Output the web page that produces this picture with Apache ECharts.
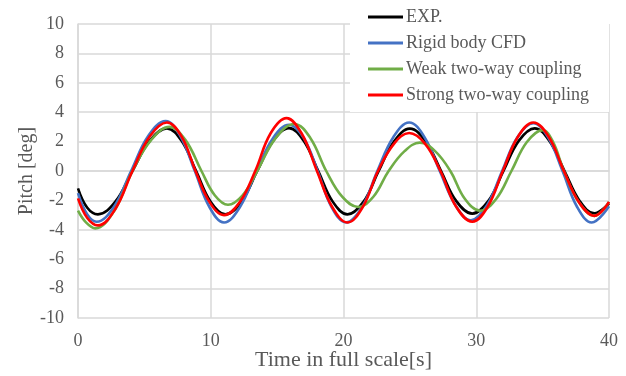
<!DOCTYPE html>
<html>
<head>
<meta charset="utf-8">
<script src="https://cdn.jsdelivr.net/npm/echarts@6/dist/echarts.min.js"></script>
<style>html,body{margin:0;padding:0;background:#fff}#c{width:626px;height:376px}</style>
</head>
<body>
<div id="c"></div>
<script>
var seriesNames = ['EXP.', 'Rigid body CFD', 'Weak two-way coupling', 'Strong two-way coupling'];
var xTicks = [0, 10, 20, 30, 40];
var yTicks = [-10, -8, -6, -4, -2, 0, 2, 4, 6, 8, 10];

var expT = [0, 0.7, 1.5, 2.8, 4.1, 5.4, 6.7, 7.8, 8.9, 10.0, 11.1, 12.3, 13.5, 14.7, 15.9, 17.0, 18.1, 19.2, 20.3, 21.5, 22.65, 23.8, 25.0, 26.2, 27.35, 28.5, 29.7, 30.9, 32.05, 33.2, 34.4, 35.5, 36.65, 37.8, 38.9, 40];
var expV = [-1.18, -2.5, -2.95, -2.1, 0, 2.05, 2.9, 2.05, 0, -2.1, -2.95, -2.1, 0, 2.05, 2.92, 2.05, 0, -2.1, -2.95, -2.1, 0, 2.0, 2.88, 2.0, 0, -2.05, -2.9, -2.05, 0, 2.05, 2.9, 2.05, 0, -2.05, -2.88, -2.2];

var rigidT = [0, 0.7, 1.4, 2.7, 4.0, 5.3, 6.6, 7.7, 8.8, 9.9, 11.0, 12.2, 13.45, 14.7, 15.9, 17.0, 18.05, 19.1, 20.2, 21.4, 22.55, 23.75, 24.95, 26.1, 27.25, 28.45, 29.6, 30.8, 31.95, 33.1, 34.3, 35.4, 36.5, 37.6, 38.7, 40];
var rigidV = [-1.5, -2.95, -3.45, -2.45, 0, 2.4, 3.4, 2.4, 0, -2.45, -3.5, -2.45, 0, 2.25, 3.15, 2.25, 0, -2.45, -3.5, -2.45, 0, 2.3, 3.3, 2.3, 0, -2.35, -3.35, -2.35, 0, 2.3, 3.25, 2.3, 0, -2.45, -3.5, -2.4];

var weakT = [0, 0.6, 1.3, 2.7, 4.1, 5.5, 6.9, 8.1, 9.3, 10.3, 11.3, 12.4, 13.5, 14.9, 16.3, 17.5, 18.7, 19.9, 21.1, 22.25, 23.4, 24.6, 25.75, 26.9, 28.05, 29.15, 30.3, 31.5, 32.65, 33.8, 35.0, 35.8, 36.6, 37.75, 38.9, 40];
var weakV = [-2.7, -3.5, -3.9, -2.75, 0, 2.1, 3.0, 2.1, 0, -1.65, -2.3, -1.65, 0, 2.25, 3.2, 2.25, 0, -1.75, -2.45, -1.75, 0, 1.35, 1.93, 1.35, 0, -1.9, -2.7, -1.9, 0, 1.95, 2.78, 1.95, 0, -2.15, -3.05, -2.1];

var strongT = [0, 0.7, 1.5, 2.8, 4.1, 5.4, 6.7, 7.8, 8.85, 9.9, 11.0, 12.2, 13.35, 14.5, 15.7, 16.85, 18.0, 19.15, 20.3, 21.45, 22.6, 23.8, 24.95, 26.15, 27.3, 28.5, 29.7, 30.85, 32.0, 33.15, 34.3, 35.45, 36.6, 37.75, 38.9, 40];
var strongV = [-1.86, -3.2, -3.7, -2.6, 0, 2.35, 3.3, 2.35, 0, -2.1, -3.0, -2.1, 0, 2.55, 3.6, 2.55, 0, -2.45, -3.5, -2.45, 0, 1.85, 2.58, 1.85, 0, -2.45, -3.45, -2.45, 0, 2.35, 3.3, 2.35, 0, -2.15, -3.05, -2.1];

var colors = ['#000000', '#4472C4', '#70AD47', '#FF0000'];
var allT = [expT, rigidT, weakT, strongT];
var allV = [expV, rigidV, weakV, strongV];

function pairs(t, v) { return t.map(function (x, i) { return [x, v[i]]; }); }

var font = 'Liberation Serif';
var grey = '#595959';

var chart = echarts.init(document.getElementById('c'), null, { renderer: 'canvas' });
chart.setOption({
  animation: false,
  backgroundColor: '#ffffff',
  grid: { left: 78, right: 17, top: 24, bottom: 58, containLabel: false, outerBoundsMode: 'none' },
  legend: {
    orient: 'vertical',
    left: 350,
    top: 0,
    padding: [8, 20, 8, 18],
    itemGap: 8,
    itemWidth: 35,
    itemHeight: 3,
    icon: 'rect',
    backgroundColor: '#ffffff',
    data: seriesNames,
    textStyle: { fontFamily: font, fontSize: 18, color: grey, padding: [0, 0, 0, -2], lineHeight: 18 }
  },
  xAxis: {
    type: 'value', min: xTicks[0], max: xTicks[xTicks.length - 1], interval: 10,
    name: 'Time in full scale[s]', nameLocation: 'middle', nameGap: 31, nameMoveOverlap: false,
    nameTextStyle: { fontFamily: font, fontSize: 22, color: grey },
    axisLine: { show: true, lineStyle: { color: '#d9d9d9', width: 1.5 } },
    axisTick: { show: false },
    axisLabel: { fontFamily: font, fontSize: 18, color: grey, margin: 14 },
    splitLine: { show: true, lineStyle: { color: '#d9d9d9', width: 1.5 } }
  },
  yAxis: {
    type: 'value', min: yTicks[0], max: yTicks[yTicks.length - 1], interval: 2,
    name: 'Pitch [deg]', nameLocation: 'middle', nameGap: 41, nameMoveOverlap: false,
    nameTextStyle: { fontFamily: font, fontSize: 20, color: grey },
    axisLine: { show: true, lineStyle: { color: '#d9d9d9', width: 1.5 } },
    axisTick: { show: false },
    axisLabel: { fontFamily: font, fontSize: 18, color: grey, margin: 14 },
    splitLine: { show: true, lineStyle: { color: '#d9d9d9', width: 1.5 } }
  },
  series: seriesNames.map(function (n, i) {
    return {
      name: n, type: 'line', data: pairs(allT[i], allV[i]),
      smooth: 0.4, symbol: 'none',
      lineStyle: { color: colors[i], width: 2.6 },
      itemStyle: { color: colors[i] }
    };
  })
});
</script>
</body>
</html>
